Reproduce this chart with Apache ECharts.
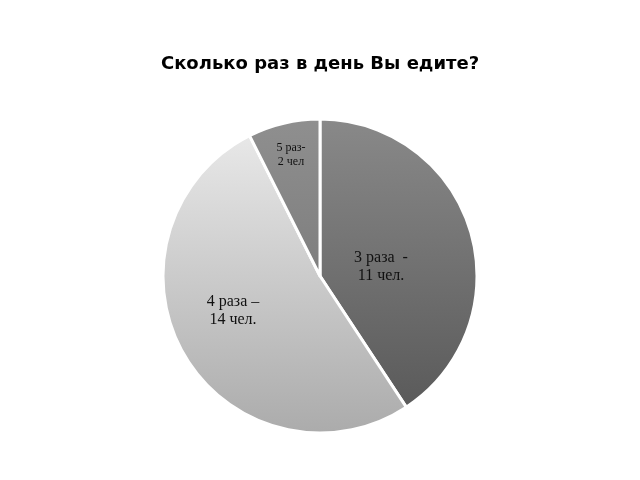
<!DOCTYPE html>
<html>
<head>
<meta charset="utf-8">
<script src="https://cdn.jsdelivr.net/npm/echarts@6/dist/echarts.min.js"></script>
<style>
html, body { margin: 0; padding: 0; background: #fff; }
#main { width: 640px; height: 480px; }
</style>
</head>
<body>
<div id="main"></div>
<script>
var titleText = 'Сколько раз в день Вы едите?';
var categories = ['3 раза  -\n11 чел.', '4 раза –\n14 чел.', '5 раз-\n2 чел'];
var values = [11, 14, 2];

// градиенты для секторов (сверху вниз)
var fills = [
	['#898989', '#5a5a5a'],
	['#e8e8e8', '#ababab'],
	['#8f8f8f', '#7e7e7e']
];
// где стоят подписи
var labelPos = [[381, 267], [233, 311], [291, 155]];
var labelSize = [16, 16, 12];

var chart = echarts.init(document.getElementById('main'));

var data = [];
for (var i = 0; i < values.length; i++) {
	data.push({
		name: categories[i],
		value: values[i],
		itemStyle: {
			color: new echarts.graphic.LinearGradient(0, 0, 0, 1, [
				{ offset: 0, color: fills[i][0] },
				{ offset: 1, color: fills[i][1] }
			])
		}
	});
}

var option = {
	title: {
		text: titleText,
		left: 'center',
		top: 50,
		textStyle: {
			fontFamily: 'DejaVu Sans',
			fontWeight: 'bold',
			fontSize: 18,
			color: '#000'
		}
	},
	animation: false,
	series: [{
		type: 'pie',
		center: [320, 276],
		radius: [0, 157],
		startAngle: 90,
		clockwise: true,
		silent: true,
		itemStyle: {
			borderColor: '#fff',
			borderWidth: 3
		},
		label: {
			show: true,
			position: 'inside',
			formatter: function(p) {
				return p.name.split('\n').map(function(s) {
					return '{t' + p.dataIndex + '|' + s + '}';
				}).join('\n');
			},
			rich: {
				t0: { fontFamily: 'Liberation Serif', fontSize: labelSize[0], lineHeight: 18, color: '#111' },
				t1: { fontFamily: 'Liberation Serif', fontSize: labelSize[1], lineHeight: 18, color: '#111' },
				t2: { fontFamily: 'Liberation Serif', fontSize: labelSize[2], lineHeight: 14, color: '#111' }
			},
			align: 'center'
		},
		labelLayout: function(params) {
			var p = labelPos[params.dataIndex];
			return { x: p[0], y: p[1], align: 'center', verticalAlign: 'middle' };
		},
		data: data
	}]
};

chart.setOption(option);
</script>
</body>
</html>
